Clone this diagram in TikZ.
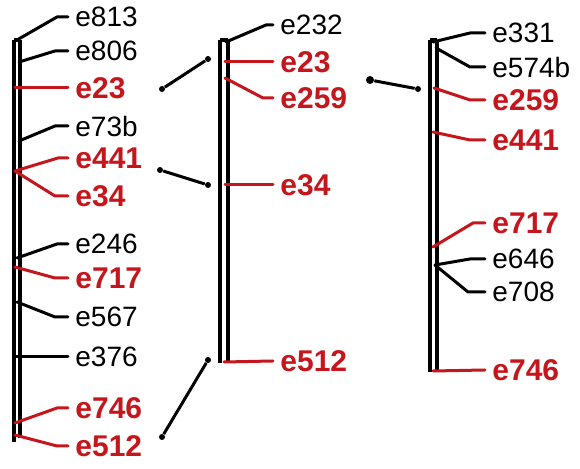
\documentclass[tikz,border=0pt]{standalone}
\usepackage{fontspec}
\setmainfont{Liberation Sans}
\definecolor{chrred}{RGB}{196,22,28}
\begin{document}
\begin{tikzpicture}[x=0.5pt,y=-0.5pt,
 bar/.style={line width=1.9pt},
 lead/.style={line width=1.5pt, line join=round, line cap=round},
 redlead/.style={lead, draw=chrred},
 blk/.style={anchor=west, inner xsep=3.5pt, inner ysep=0pt, font=\fontsize{14}{16}\selectfont},
 redlab/.style={blk, text=chrred, font=\fontsize{15}{17}\selectfont\bfseries},
 link/.style={line width=1.5pt},
 linkdot/.style={circle, fill=black, inner sep=0pt, minimum size=3pt}]
\useasboundingbox (0,0) rectangle (580,469);

% ---------- left chromosome ----------
\draw[bar] (14,40) -- (14,442);
\draw[bar] (20,40) -- (20,438);
\draw[bar] (14,40) -- (20,40);

\node[blk]    (L813) at (68,17)  {e813};
\node[blk]    (L806) at (68,51)  {e806};
\node[redlab] (L23)  at (68,88)  {e23};
\node[blk]    (L73b) at (68,126) {e73b};
\node[redlab] (L441) at (68,158) {e441};
\node[redlab] (L34)  at (68,196) {e34};
\node[blk]    (L246) at (68,244) {e246};
\node[redlab] (L717) at (68,278) {e717};
\node[blk]    (L567) at (68,317) {e567};
\node[blk]    (L376) at (68,357) {e376};
\node[redlab] (L746) at (68,408) {e746};
\node[redlab] (L512) at (68,446) {e512};

\draw[lead] (17,40) -- (57,17) -- (L813.west);
\draw[lead] (19,62) -- (55,51) -- (L806.west);
\draw[redlead] (15,88) -- (L23.west);
\draw[lead] (19,141) -- (55,126) -- (L73b.west);
\draw[redlead] (15,171) -- (58,158) -- (L441.west);
\draw[redlead] (15,171) -- (55,196) -- (L34.west);
\draw[lead] (17,258) -- (57,244) -- (L246.west);
\draw[redlead] (15,267) -- (55,278) -- (L717.west);
\draw[lead] (17,302) -- (55,317) -- (L567.west);
\draw[lead] (15,357) -- (L376.west);
\draw[redlead] (15,423) -- (57,408) -- (L746.west);
\draw[redlead] (15,435) -- (57,446) -- (L512.west);

% ---------- middle chromosome ----------
\draw[bar] (220,40) -- (220,363);
\draw[bar] (228,40) -- (228,363);
\draw[bar] (220,40) -- (228,40);

\node[blk]    (M232) at (273,25)  {e232};
\node[redlab] (M23)  at (273,62)  {e23};
\node[redlab] (M259) at (273,98)  {e259};
\node[redlab] (M34)  at (273,185) {e34};
\node[redlab] (M512) at (273,361) {e512};

\draw[lead] (226,42) -- (266,25) -- (M232.west);
\draw[redlead] (225,62) -- (M23.west);
\draw[redlead] (225,78) -- (263,98) -- (M259.west);
\draw[redlead] (225,185) -- (M34.west);
\draw[redlead] (224,362) -- (M512.west);

% ---------- right chromosome ----------
\draw[bar] (430,40) -- (430,372);
\draw[bar] (437,40) -- (437,372);
\draw[bar] (430,40) -- (437,40);

\node[blk]    (R331)  at (485,33)  {e331};
\node[blk]    (R574b) at (485,67)  {e574b};
\node[redlab] (R259)  at (485,100) {e259};
\node[redlab] (R441)  at (485,140) {e441};
\node[redlab] (R717)  at (485,223) {e717};
\node[blk]    (R646)  at (485,259) {e646};
\node[blk]    (R708)  at (485,292) {e708};
\node[redlab] (R746)  at (485,370) {e746};

\draw[lead] (433,42) -- (470,33) -- (R331.west);
\draw[lead] (436,48) -- (470,67) -- (R574b.west);
\draw[redlead] (434,88) -- (470,100) -- (R259.west);
\draw[redlead] (433,132) -- (470,140) -- (R441.west);
\draw[redlead] (433,247) -- (473,223) -- (R717.west);
\draw[lead] (435,265) -- (470,259) -- (R646.west);
\draw[lead] (435,265) -- (468,292) -- (R708.west);
\draw[redlead] (433,371) -- (R746.west);

% ---------- links between chromosomes ----------
\node[linkdot] (a1) at (162,89) {};
\node[linkdot] (a2) at (208,59) {};
\node[linkdot] (b1) at (160,170) {};
\node[linkdot] (b2) at (208,185) {};
\node[linkdot] (c1) at (162,437) {};
\node[linkdot] (c2) at (208,360) {};
\node[linkdot, minimum size=4pt] (d1) at (370,80) {};
\node[linkdot] (d2) at (418,89) {};
\draw[link] (a1) -- (a2);
\draw[link] (b1) -- (b2);
\draw[link] (c1) -- (c2);
\draw[link] (d1) -- (d2);
\end{tikzpicture}
\end{document}
